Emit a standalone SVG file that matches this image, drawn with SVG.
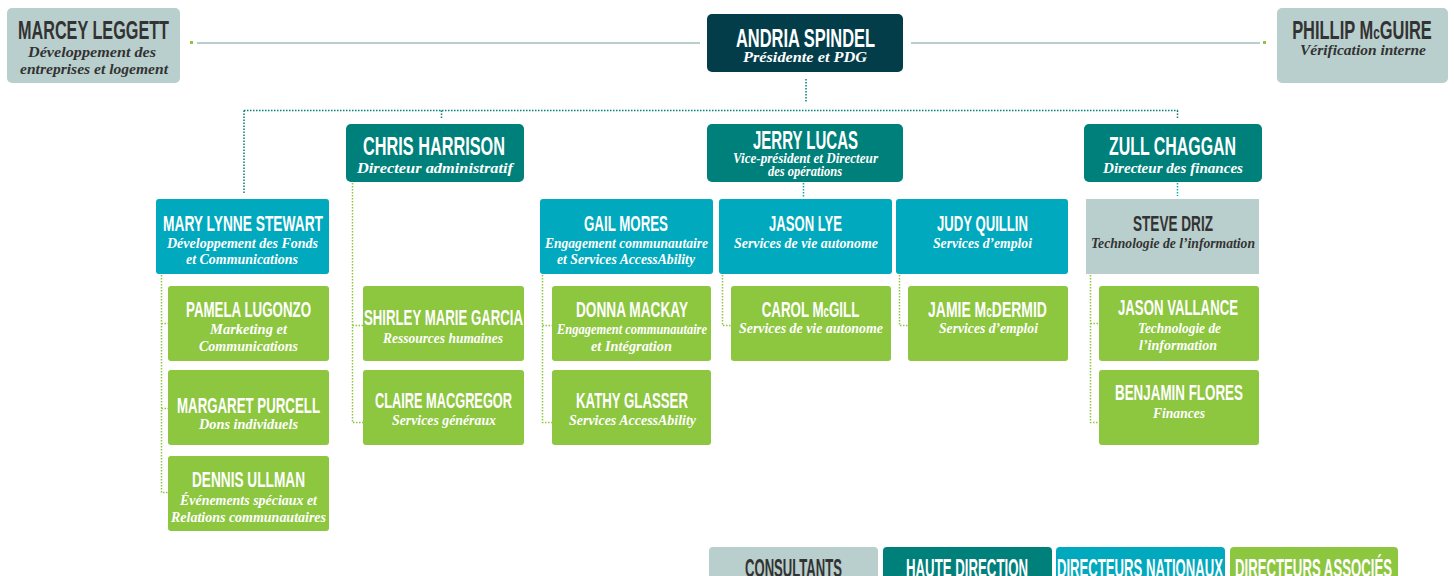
<svg xmlns="http://www.w3.org/2000/svg" width="1454" height="576" viewBox="0 0 1454 576">
<style>
.t{font-family:"Liberation Sans",Arial,sans-serif;font-weight:bold;text-anchor:middle;fill:#fff}
.s{font-family:"Liberation Serif","Times New Roman",serif;font-style:italic;font-weight:bold;text-anchor:middle;fill:#fff;font-size:14px}
.dk{fill:#333}
.big{font-size:25px}
.mid{font-size:22px}
.con{fill:#b9cfcd}
.exe{fill:#033d4a}
.sen{fill:#00807a}
.nat{fill:#00a9bd}
.ass{fill:#8dc63f}
.dt{stroke:#00807a;stroke-width:1.5;stroke-dasharray:1.5 1.5;fill:none}
.dc{stroke:#00a9bd;stroke-width:1.5;stroke-dasharray:1.5 1.5;fill:none}
.dg{stroke:#8dc63f;stroke-width:1.5;stroke-dasharray:1.5 1.5;fill:none}
.sl{stroke:#b9cfcd;stroke-width:2;fill:none}
</style>
<g id="connectors">
<line class="sl" x1="197" y1="43" x2="700" y2="43"/>
<line class="sl" x1="911" y1="43" x2="1260" y2="43"/>
<rect x="190" y="41" width="3" height="3" fill="#8dc63f"/>
<rect x="1263" y="41" width="3" height="3" fill="#8dc63f"/>
<path class="dt" d="M806 79V103M244 110.5H1178M244 110.5V194M441.5 110.5V118M1177.5 110.5V118"/>
<path class="dc" d="M803.5 183V197M1177.5 183V196"/>
<path class="dg" d="M161.5 275V492.5H168M161.5 323.5H168M161.5 408.5H168"/>
<path class="dg" d="M352.5 183V422.5H363M352.5 325.5H363"/>
<path class="dg" d="M542.5 275V422.5H552M542.5 325.5H552"/>
<path class="dg" d="M722.5 275V325.5H731"/>
<path class="dg" d="M899.5 275V325.5H908"/>
<path class="dg" d="M1090.5 275V422.5H1099M1090.5 323.5H1099"/>
</g>
<g id="marcey">
<rect class="con" x="7" y="8" width="173" height="75" rx="5"/>
<text class="t dk big" x="93.5" y="39" textLength="151" lengthAdjust="spacingAndGlyphs">MARCEY LEGGETT</text>
<text class="s dk" x="92" y="57" textLength="128" lengthAdjust="spacingAndGlyphs">Développement des</text>
<text class="s dk" x="94" y="74" textLength="148" lengthAdjust="spacingAndGlyphs">entreprises et logement</text>
</g>
<g id="andria">
<rect class="exe" x="707" y="14" width="196" height="58" rx="5"/>
<text class="t big" x="805.5" y="47" textLength="139" lengthAdjust="spacingAndGlyphs">ANDRIA SPINDEL</text>
<text class="s" x="805" y="62" textLength="124" lengthAdjust="spacingAndGlyphs">Présidente et PDG</text>
</g>
<g id="phillip">
<rect class="con" x="1277" y="8" width="171" height="75" rx="5"/>
<text class="t dk big" transform="translate(1362,39) scale(0.658,1)">PHILLIP M<tspan font-size="18">c</tspan>GUIRE</text>
<text class="s dk" x="1363" y="55" textLength="126" lengthAdjust="spacingAndGlyphs">Vérification interne</text>
</g>
<g id="chris">
<rect class="sen" x="346" y="124" width="178" height="58" rx="5"/>
<text class="t big" x="434" y="155" textLength="142" lengthAdjust="spacingAndGlyphs">CHRIS HARRISON</text>
<text class="s" x="435" y="173" font-size="15" textLength="156" lengthAdjust="spacingAndGlyphs">Directeur administratif</text>
</g>
<g id="jerry">
<rect class="sen" x="707" y="124" width="196" height="58" rx="5"/>
<text class="t big" x="805.5" y="149" textLength="105" lengthAdjust="spacingAndGlyphs">JERRY LUCAS</text>
<text class="s" x="805.5" y="163" font-size="12.5" textLength="145" lengthAdjust="spacingAndGlyphs">Vice-président et Directeur</text>
<text class="s" x="805" y="176" font-size="12.5" textLength="74" lengthAdjust="spacingAndGlyphs">des opérations</text>
</g>
<g id="zull">
<rect class="sen" x="1084" y="124" width="178" height="58" rx="5"/>
<text class="t big" x="1172.5" y="155" textLength="127" lengthAdjust="spacingAndGlyphs">ZULL CHAGGAN</text>
<text class="s" x="1173" y="173" textLength="140" lengthAdjust="spacingAndGlyphs">Directeur des finances</text>
</g>
<g id="mary">
<rect class="nat" x="156" y="199" width="173" height="75" rx="3"/>
<text class="t mid" x="243" y="231" textLength="160" lengthAdjust="spacingAndGlyphs">MARY LYNNE STEWART</text>
<text class="s" x="242.5" y="248" textLength="151" lengthAdjust="spacingAndGlyphs">Développement des Fonds</text>
<text class="s" x="242" y="264" textLength="112" lengthAdjust="spacingAndGlyphs">et Communications</text>
</g>
<g id="gail">
<rect class="nat" x="540" y="199" width="173" height="75" rx="3"/>
<text class="t mid" x="626" y="231" textLength="84" lengthAdjust="spacingAndGlyphs">GAIL MORES</text>
<text class="s" x="626.5" y="248" textLength="163" lengthAdjust="spacingAndGlyphs">Engagement communautaire</text>
<text class="s" x="626" y="264" textLength="138" lengthAdjust="spacingAndGlyphs">et Services AccessAbility</text>
</g>
<g id="jasonlye">
<rect class="nat" x="719" y="199" width="173" height="75" rx="3"/>
<text class="t mid" x="805.5" y="231" textLength="73" lengthAdjust="spacingAndGlyphs">JASON LYE</text>
<text class="s" x="806" y="248" textLength="144" lengthAdjust="spacingAndGlyphs">Services de vie autonome</text>
</g>
<g id="judy">
<rect class="nat" x="896" y="199" width="172" height="75" rx="3"/>
<text class="t mid" x="982.5" y="231" textLength="91" lengthAdjust="spacingAndGlyphs">JUDY QUILLIN</text>
<text class="s" x="982.5" y="248" textLength="99" lengthAdjust="spacingAndGlyphs">Services d’emploi</text>
</g>
<g id="steve">
<rect class="con" x="1086" y="199" width="173" height="75"/>
<text class="t dk mid" x="1173" y="231" textLength="80" lengthAdjust="spacingAndGlyphs">STEVE DRIZ</text>
<text class="s dk" x="1173" y="248" textLength="164" lengthAdjust="spacingAndGlyphs">Technologie de l’information</text>
</g>
<g id="pamela">
<rect class="ass" x="168" y="286" width="161" height="75" rx="3"/>
<text class="t mid" x="248.5" y="317" textLength="125" lengthAdjust="spacingAndGlyphs">PAMELA LUGONZO</text>
<text class="s" x="248.5" y="334" textLength="77" lengthAdjust="spacingAndGlyphs">Marketing et</text>
<text class="s" x="248.5" y="351" textLength="99" lengthAdjust="spacingAndGlyphs">Communications</text>
</g>
<g id="margaret">
<rect class="ass" x="168" y="370" width="161" height="75" rx="3"/>
<text class="t mid" x="248.5" y="413" textLength="143" lengthAdjust="spacingAndGlyphs">MARGARET PURCELL</text>
<text class="s" x="248.5" y="429" textLength="99" lengthAdjust="spacingAndGlyphs">Dons individuels</text>
</g>
<g id="dennis">
<rect class="ass" x="168" y="456" width="161" height="75" rx="3"/>
<text class="t mid" x="248.5" y="487" textLength="113" lengthAdjust="spacingAndGlyphs">DENNIS ULLMAN</text>
<text class="s" x="248.5" y="505" textLength="137" lengthAdjust="spacingAndGlyphs">Événements spéciaux et</text>
<text class="s" x="248.5" y="522" textLength="155" lengthAdjust="spacingAndGlyphs">Relations communautaires</text>
</g>
<g id="shirley">
<rect class="ass" x="363" y="286" width="161" height="75" rx="3"/>
<text class="t mid" x="443.5" y="325" textLength="159" lengthAdjust="spacingAndGlyphs">SHIRLEY MARIE GARCIA</text>
<text class="s" x="443" y="343" textLength="120" lengthAdjust="spacingAndGlyphs">Ressources humaines</text>
</g>
<g id="claire">
<rect class="ass" x="363" y="370" width="161" height="75" rx="3"/>
<text class="t mid" x="443.5" y="408" textLength="137" lengthAdjust="spacingAndGlyphs">CLAIRE MACGREGOR</text>
<text class="s" x="444" y="425" textLength="104" lengthAdjust="spacingAndGlyphs">Services généraux</text>
</g>
<g id="donna">
<rect class="ass" x="552" y="286" width="159" height="75" rx="3"/>
<text class="t mid" x="632" y="317" textLength="112" lengthAdjust="spacingAndGlyphs">DONNA MACKAY</text>
<text class="s" x="632" y="334" font-size="13" textLength="150" lengthAdjust="spacingAndGlyphs">Engagement communautaire</text>
<text class="s" x="631.5" y="351" font-size="13" textLength="81" lengthAdjust="spacingAndGlyphs">et Intégration</text>
</g>
<g id="kathy">
<rect class="ass" x="552" y="370" width="159" height="75" rx="3"/>
<text class="t mid" x="632" y="408" textLength="112" lengthAdjust="spacingAndGlyphs">KATHY GLASSER</text>
<text class="s" x="632.5" y="425" font-size="13" textLength="127" lengthAdjust="spacingAndGlyphs">Services AccessAbility</text>
</g>
<g id="carol">
<rect class="ass" x="731" y="286" width="160" height="75" rx="3"/>
<text class="t mid" transform="translate(810.5,317) scale(0.606,1)">CAROL M<tspan font-size="16">c</tspan>GILL</text>
<text class="s" x="811" y="333" font-size="13" textLength="144" lengthAdjust="spacingAndGlyphs">Services de vie autonome</text>
</g>
<g id="jamie">
<rect class="ass" x="908" y="286" width="160" height="75" rx="3"/>
<text class="t mid" transform="translate(987.5,317) scale(0.635,1)">JAMIE M<tspan font-size="16">c</tspan>DERMID</text>
<text class="s" x="988.5" y="333" font-size="13" textLength="99" lengthAdjust="spacingAndGlyphs">Services d’emploi</text>
</g>
<g id="jasonvallance">
<rect class="ass" x="1099" y="286" width="160" height="75" rx="3"/>
<text class="t mid" x="1178" y="315" textLength="120" lengthAdjust="spacingAndGlyphs">JASON VALLANCE</text>
<text class="s" x="1179.5" y="333" textLength="83" lengthAdjust="spacingAndGlyphs">Technologie de</text>
<text class="s" x="1178" y="350" textLength="78" lengthAdjust="spacingAndGlyphs">l’information</text>
</g>
<g id="benjamin">
<rect class="ass" x="1099" y="370" width="160" height="75" rx="3"/>
<text class="t mid" x="1179" y="400" textLength="128" lengthAdjust="spacingAndGlyphs">BENJAMIN FLORES</text>
<text class="s" x="1179" y="418" textLength="52" lengthAdjust="spacingAndGlyphs">Finances</text>
</g>
<g id="legend">
<rect class="con" x="709" y="547" width="169" height="40" rx="4"/>
<rect class="sen" x="883" y="547" width="169" height="40" rx="4"/>
<rect class="nat" x="1056" y="547" width="169" height="40" rx="4"/>
<rect class="ass" x="1230" y="547" width="168" height="40" rx="4"/>
<text class="t dk big" x="793.5" y="577" textLength="97" lengthAdjust="spacingAndGlyphs">CONSULTANTS</text>
<text class="t big" x="967" y="577" textLength="122" lengthAdjust="spacingAndGlyphs">HAUTE DIRECTION</text>
<text class="t big" x="1140" y="577" textLength="166" lengthAdjust="spacingAndGlyphs">DIRECTEURS NATIONAUX</text>
<text class="t big" x="1313.5" y="577" textLength="157" lengthAdjust="spacingAndGlyphs">DIRECTEURS ASSOCIÉS</text>
</g>
</svg>
